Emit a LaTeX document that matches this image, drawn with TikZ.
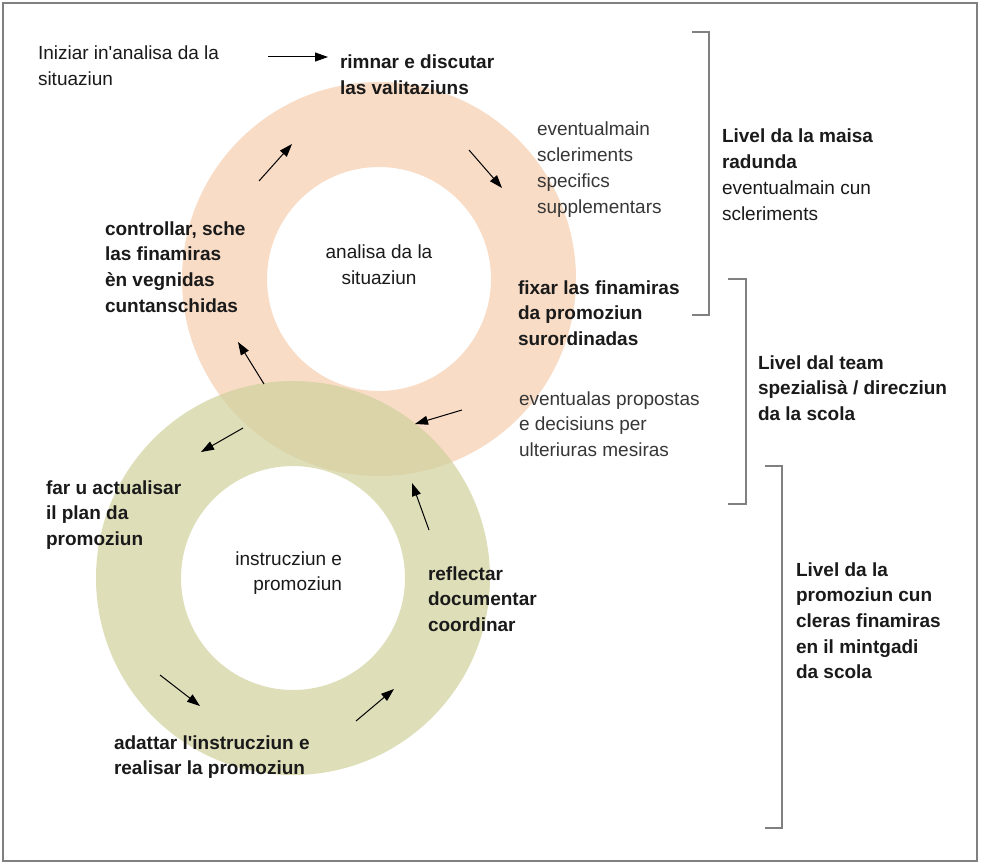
\documentclass[tikz,border=0pt]{standalone}
\usepackage{fontspec}
\setmainfont{Liberation Sans}[Ligatures=TeXOff]
\usetikzlibrary{arrows.meta}
\definecolor{peach}{RGB}{248,220,198}
\definecolor{olivering}{RGB}{208,209,156}
\definecolor{txt}{RGB}{26,26,26}
\definecolor{txtlight}{RGB}{55,55,55}
\definecolor{framegray}{RGB}{128,128,128}
\newcommand{\fl}{\rule{0pt}{18pt}}
\begin{document}
\begin{tikzpicture}[x=1pt,y=-1pt,
  lbl/.style={inner sep=0pt, outer sep=0pt, align=left, anchor=north west, text=txt, font=\fontsize{19}{25.7}\selectfont},
  boldlbl/.style={lbl, font=\fontsize{19}{25.7}\selectfont\bfseries},
  lightlbl/.style={lbl, text=txtlight},
  cyc/.style={draw=black, line width=1pt, -{Triangle[length=13pt,width=9pt]}},
  bracket/.style={draw=framegray, line width=1.3pt},
]
\useasboundingbox (0,0) rectangle (981,866);
\fill[white] (0,0) rectangle (981,866);
\draw[framegray, line width=1.3pt] (3,3) rectangle (977,861);

% rings
\coordinate (U) at (379,279);
\coordinate (L) at (293,578);
\fill[peach, even odd rule] (U) circle[radius=197pt] (U) circle[radius=112pt];
\fill[olivering, fill opacity=0.7, even odd rule] (L) circle[radius=197pt] (L) circle[radius=112pt];

% brackets
\draw[bracket] (692,32) -- (709,32) -- (709,315) -- (692,315);
\draw[bracket] (728,279) -- (746,279) -- (746,504) -- (728,504);
\draw[bracket] (765,466) -- (782,466) -- (782,828) -- (765,828);

% texts
\node[lbl] (iniz) at (38,42) {\fl Iniziar in'analisa da la\\situaziun};
\node[boldlbl] (rimnar) at (340,51) {\fl rimnar e discutar\\las valitaziuns};
\node[lightlbl] (evmain) at (537,118) {\fl eventualmain\\scleriments\\specifics\\supplementars};
\node[boldlbl] (maisa) at (722,125) {\fl Livel da la maisa\\radunda\\\mdseries eventualmain cun\\\mdseries scleriments};
\node[boldlbl] (controllar) at (105,217) {\fl controllar, sche\\las finamiras\\èn vegnidas\\cuntanschidas};
\node[lbl, anchor=north, align=center] (analisa) at (379,241) {\fl analisa da la\\situaziun};
\node[boldlbl] (fixar) at (518,276) {\fl fixar las finamiras\\da promoziun\\surordinadas};
\node[boldlbl] (team) at (758,351) {\fl Livel dal team\\spezialisà / direcziun\\da la scola};
\node[lightlbl] (evprop) at (519,387) {\fl eventualas propostas\\e decisiuns per\\ulteriuras mesiras};
\node[boldlbl] (faru) at (46,476) {\fl far u actualisar\\il plan da\\promoziun};
\node[lbl, anchor=north east, align=right] (instr) at (342,547) {\fl instrucziun e\\promoziun};
\node[boldlbl] (reflectar) at (428,562) {\fl reflectar\\documentar\\coordinar};
\node[boldlbl] (promo) at (796,558) {\fl Livel da la\\promoziun cun\\cleras finamiras\\en il mintgadi\\da scola};
\node[boldlbl] (adattar) at (114,731) {\fl adattar l'instrucziun e\\realisar la promoziun};

% arrow end points
\coordinate (t0) at (268,57);  \coordinate (t1) at (328,57);
\coordinate (a1s) at (259,181); \coordinate (a1e) at (292,144);
\coordinate (a2s) at (469,150); \coordinate (a2e) at (502,188);
\coordinate (a3s) at (462,410); \coordinate (a3e) at (415,424);
\coordinate (a4s) at (264,384); \coordinate (a4e) at (238,342);
\coordinate (b1s) at (243,428); \coordinate (b1e) at (201,452);
\coordinate (b2s) at (160,675); \coordinate (b2e) at (200,706);
\coordinate (b3s) at (356,721); \coordinate (b3e) at (394,689);
\coordinate (b4s) at (429,530); \coordinate (b4e) at (412,483);

\draw[cyc] (t0) -- (t1);
\draw[cyc] (a1s) -- (a1e);
\draw[cyc] (a2s) -- (a2e);
\draw[cyc] (a3s) -- (a3e);
\draw[cyc] (a4s) -- (a4e);
\draw[cyc] (b1s) -- (b1e);
\draw[cyc] (b2s) -- (b2e);
\draw[cyc] (b3s) -- (b3e);
\draw[cyc] (b4s) -- (b4e);
\end{tikzpicture}
\end{document}
